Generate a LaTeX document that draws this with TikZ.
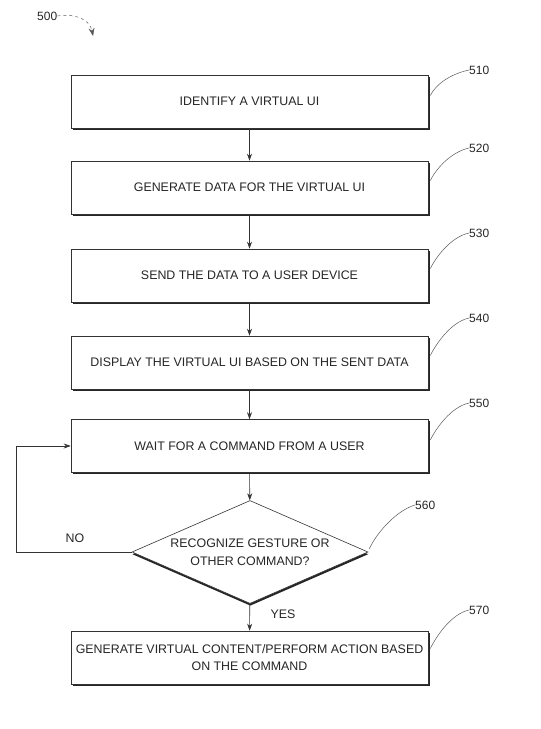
\documentclass[tikz,border=0pt]{standalone}
\usepackage{fontspec}
\setmainfont{Liberation Sans}
\usetikzlibrary{arrows.meta,shapes.geometric,shadows,calc}

\begin{document}
\begin{tikzpicture}[x=1pt,y=1pt,yscale=-1,
  stepbox/.style={draw=black!80, line width=0.6pt, fill=white, text=black!85,
    minimum width=357pt, minimum height=53pt, inner sep=0pt, align=center,
    font=\fontsize{12.4}{17}\selectfont,
    drop shadow={shadow xshift=1.6pt, shadow yshift=-1.6pt, fill=black!85, opacity=1}},
  decision/.style={shape=diamond, aspect=2.3, draw=black!80, line width=0.6pt, fill=white, text=black!85,
    minimum width=236pt, minimum height=103pt, inner sep=-4pt, align=center,
    font=\fontsize{12.4}{18}\selectfont,
    drop shadow={shadow xshift=0.3pt, shadow yshift=-2.2pt, fill=black!85, opacity=1}},
  flow/.style={draw=black!80, line width=0.6pt, -{Stealth[length=7pt,width=5pt]}},
  leader/.style={draw=black!65, line width=0.5pt},
  refnum/.style={font=\fontsize{12}{14}\selectfont, text=black!85, anchor=west, inner sep=0pt},
  answer/.style={font=\fontsize{12.4}{14}\selectfont, text=black!85, inner sep=0pt}]
\useasboundingbox (0,0) rectangle (541,729);

% figure number
\node[refnum] (r500) at (37,16) {500};
\coordinate (fig) at (93,36);
\draw[leader, dashed, -{Stealth[length=8pt,width=6pt]}] (r500.east) .. controls (76,13) and (90,20) .. (fig);

% steps
\node[stepbox] (identify) at (249.5,101.5) {IDENTIFY A VIRTUAL UI};
\node[stepbox] (gendata) at (249.5,187.5) {GENERATE DATA FOR THE VIRTUAL UI};
\node[stepbox] (send) at (249.5,275.5) {SEND THE DATA TO A USER DEVICE};
\node[stepbox] (display) at (249.5,362.5) {DISPLAY THE VIRTUAL UI BASED ON THE SENT DATA};
\node[stepbox] (wait) at (249.5,446) {WAIT FOR A COMMAND FROM A USER};
\node[decision] (recognize) at (250,552) {RECOGNIZE GESTURE OR\\OTHER COMMAND?};
\node[stepbox] (generate) at (249.5,657.5) {GENERATE VIRTUAL CONTENT/PERFORM ACTION BASED\\ON THE COMMAND};

% flow arrows
\draw[flow] (identify) -- (gendata);
\draw[flow] (gendata) -- (send);
\draw[flow] (send) -- (display);
\draw[flow] (display) -- (wait);
\draw[flow] (wait) -- (recognize);
\draw[flow] (recognize) -- (generate);
\draw[flow] (recognize.west) -- ++(-115,0) |- (wait.west);

% answers
\node[answer] (no) at (75,538) {NO};
\node[answer] (yes) at (283,614) {YES};

% reference numbers
\node[refnum] (r510) at (469,70) {510};
\node[refnum] (r520) at (469,148) {520};
\node[refnum] (r530) at (469,233) {530};
\node[refnum] (r540) at (469,318) {540};
\node[refnum] (r550) at (469,403) {550};
\node[refnum] (r560) at (415,505) {560};
\node[refnum] (r570) at (469,610) {570};
\draw[leader] (r510.west) .. controls +(-18,4) and +(6,-12) .. ($(identify.east)+(2,-6)$);
\draw[leader] (r520.west) .. controls +(-18,4) and +(6,-12) .. ($(gendata.east)+(2,-7)$);
\draw[leader] (r530.west) .. controls +(-18,4) and +(6,-12) .. ($(send.east)+(2,-7)$);
\draw[leader] (r540.west) .. controls +(-18,4) and +(6,-12) .. ($(display.east)+(2,-7)$);
\draw[leader] (r550.west) .. controls +(-18,4) and +(6,-12) .. ($(wait.east)+(2,-6)$);
\draw[leader] (r560.west) .. controls +(-20,6) and +(6,-14) .. ($(recognize.east)+(1,-3)$);
\draw[leader] (r570.west) .. controls +(-18,4) and +(6,-12) .. ($(generate.east)+(2,-9)$);

\end{tikzpicture}
\end{document}
